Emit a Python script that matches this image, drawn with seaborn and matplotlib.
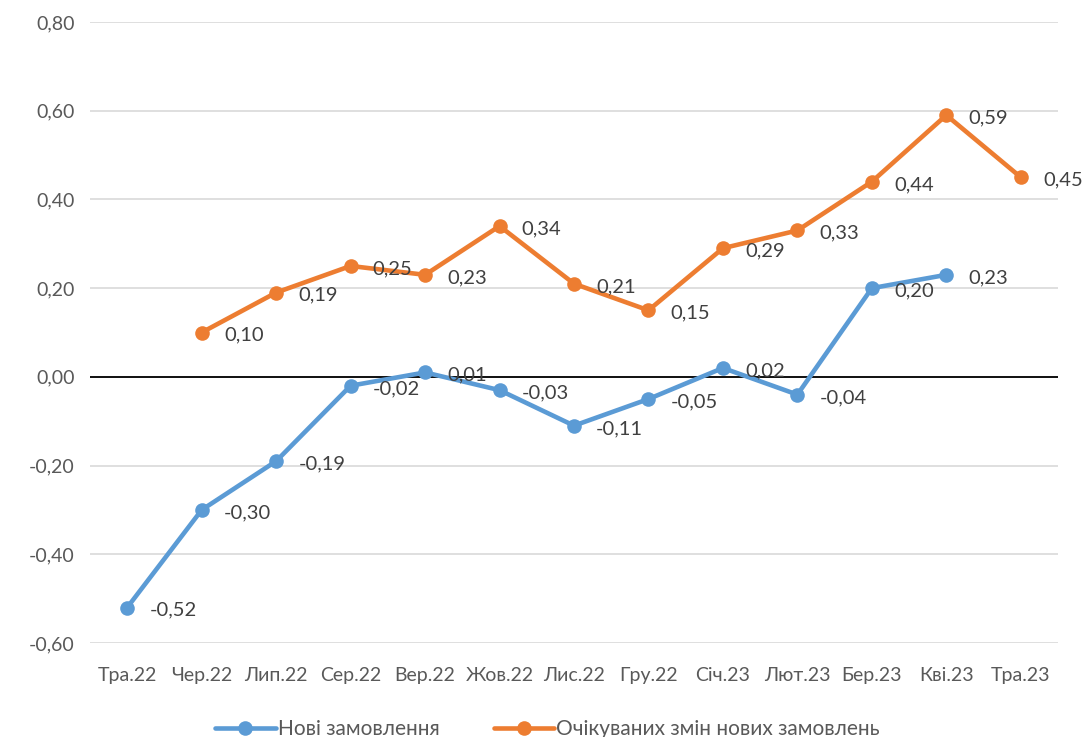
import numpy as np
import pandas as pd
import seaborn as sns
import matplotlib.pyplot as plt

months = ["Тра.22", "Чер.22", "Лип.22", "Сер.22", "Вер.22", "Жов.22", "Лис.22",
          "Гру.22", "Січ.23", "Лют.23", "Бер.23", "Кві.23", "Тра.23"]
new_orders = [-0.52, -0.30, -0.19, -0.02, 0.01, -0.03, -0.11,
              -0.05, 0.02, -0.04, 0.20, 0.23, np.nan]
expected_orders = [np.nan, 0.10, 0.19, 0.25, 0.23, 0.34, 0.21,
                   0.15, 0.29, 0.33, 0.44, 0.59, 0.45]
series_names = ["Нові замовлення", "Очікуваних змін нових замовлень"]
colors = ["#5B9BD5", "#ED7D31"]
yticks = [-0.6, -0.4, -0.2, 0.0, 0.2, 0.4, 0.6, 0.8]

sns.set_style("white")
plt.rcParams['font.family'] = ['Lato', 'DejaVu Sans']

fig = plt.figure(figsize=(10.84, 7.37), dpi=100)
ax = fig.add_axes([90 / 1084, 1 - 643 / 737, (1058 - 90) / 1084, (643 - 22) / 737])

x = np.arange(len(months))
df = pd.DataFrame({"x": np.concatenate([x, x]),
                   "value": new_orders + expected_orders,
                   "series": [series_names[0]] * len(x) + [series_names[1]] * len(x)})
df = df.dropna()

sns.lineplot(data=df, x="x", y="value", hue="series", palette=colors,
             hue_order=series_names, marker="o", markersize=10.5, markeredgewidth=0,
             linewidth=3.3, ax=ax, legend=False, zorder=3)

# data labels
for vals in (new_orders, expected_orders):
    for i, v in zip(x, vals):
        if np.isnan(v):
            continue
        ax.annotate(f"{v:.2f}".replace(".", ","), (i, v), xytext=(16, -2),
                    textcoords="offset points", ha="left", va="center",
                    fontsize=14.5, color="#404040", zorder=4)

ax.set_xlim(-0.5, 12.5)
ax.set_ylim(-0.6, 0.8)
ax.set_yticks(yticks)
ax.set_yticklabels([f"{t:.2f}".replace(".", ",") for t in yticks])
ax.set_xticks(x)
ax.set_xticklabels(months)
ax.tick_params(axis="both", length=0, labelsize=14, labelcolor="#595959")
ax.tick_params(axis="y", pad=11)
ax.tick_params(axis="x", pad=17)
ax.set_xlabel("")
ax.set_ylabel("")
for s in ax.spines.values():
    s.set_visible(False)
ax.yaxis.grid(True, color="#D9D9D9", linewidth=1.2)
ax.set_axisbelow(True)
ax.axhline(0, color="black", linewidth=1.3, zorder=2)

handles = [plt.Line2D([], [], color=c, marker="o", markersize=10.5, linewidth=3.3,
                      markeredgewidth=0) for c in colors]
fig.legend(handles, series_names, loc="center", bbox_to_anchor=(0.505, 8 / 737),
           ncol=2, frameon=False, fontsize=15, handlelength=2.9,
           handletextpad=0.1, columnspacing=2.6, labelcolor="#595959")

fig.savefig("out.png", dpi=100)
